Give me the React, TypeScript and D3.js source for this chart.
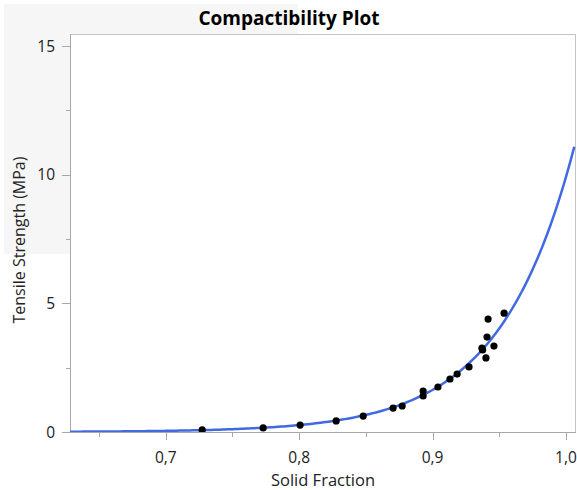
import React from "react";
import * as d3 from "d3";

const solidFraction = [0.7273, 0.773, 0.8007, 0.8277, 0.848, 0.8704, 0.8772, 0.8929, 0.8929, 0.904, 0.913, 0.9184, 0.9273, 0.937, 0.9375, 0.940, 0.9408, 0.9416, 0.946, 0.9536];
const tensileStrength = [0.08, 0.16, 0.27, 0.43, 0.62, 0.93, 1.01, 1.59, 1.40, 1.75, 2.06, 2.25, 2.53, 3.26, 3.19, 2.88, 3.69, 4.39, 3.34, 4.62];
const xTicks = [0.7, 0.8, 0.9, 1.0];
const xMinorTicks = [0.65, 0.75, 0.85, 0.95];
const yTicks = [0, 5, 10, 15];
const yMinorTicks = [2.5, 7.5, 12.5];

const W = 577, H = 490;
const m = { left: 70, top: 34, right: 576, bottom: 432 };
const FONT = "'Open Sans', 'Noto Sans', sans-serif";

// exponential fit TS = a*exp(b*SF), linear regression on ln(TS)
function fitExp(xs: number[], ys: number[]) {
  const ly = ys.map(v => Math.log(v));
  const mx = d3.mean(xs) as number, my = d3.mean(ly) as number;
  let sxy = 0, sxx = 0;
  xs.forEach((x, i) => { sxy += (x - mx) * (ly[i] - my); sxx += (x - mx) * (x - mx); });
  const b = sxy / sxx;
  const a = Math.exp(my - b * mx);
  return { a, b };
}

export default function App() {
  const x = d3.scaleLinear().domain([0.6282, 1.0075]).range([m.left, m.right]);
  const y = d3.scaleLinear().domain([0, 15.47]).range([m.bottom, m.top]);
  const fit = fitExp(solidFraction, tensileStrength);
  const xs = d3.range(0.6282, 1.0076, 0.002);
  const line = d3.line<number>().x(d => x(d)).y(d => y(fit.a * Math.exp(fit.b * d)));
  const fmt = (v: number) => v.toFixed(1).replace(".", ",");
  return (
    <svg width={W} height={H} style={{ position: "absolute", left: 0, top: 0, fontFamily: FONT }}>
      <rect x={0} y={0} width={W} height={H} fill="#fff" />
      <rect x={4} y={4} width={294} height={250} fill="#f6f6f6" />
      <rect x={m.left} y={m.top} width={m.right - m.left} height={m.bottom - m.top} fill="#fff" />
      <text x={289} y={25} textAnchor="middle" fontSize={19} fontWeight="bold" fill="#000">Compactibility Plot</text>
      <defs>
        <clipPath id="plotclip"><rect x={m.left} y={m.top} width={m.right - m.left} height={m.bottom - m.top} /></clipPath>
      </defs>
      <line x1={m.left} x2={m.right} y1={m.top + 0.5} y2={m.top + 0.5} stroke="#c4c4c4" />
      <line x1={m.right - 0.5} x2={m.right - 0.5} y1={m.top} y2={m.bottom} stroke="#c4c4c4" />
      <line x1={m.left + 0.5} x2={m.left + 0.5} y1={m.top} y2={m.bottom} stroke="#a8a8a8" />
      <line x1={m.left} x2={m.right} y1={m.bottom + 0.5} y2={m.bottom + 0.5} stroke="#a8a8a8" />
      {yTicks.map(t => (
        <g key={"y" + t}>
          <line x1={m.left - 8} x2={m.left} y1={Math.round(y(t)) + 0.5} y2={Math.round(y(t)) + 0.5} stroke="#a8a8a8" />
          <text x={m.left - 15} y={y(t) + 5.5} textAnchor="end" fontSize={15.5} fill="#222">{t}</text>
        </g>
      ))}
      {yMinorTicks.map(t => (
        <line key={"ym" + t} x1={m.left - 4} x2={m.left} y1={Math.round(y(t)) + 0.5} y2={Math.round(y(t)) + 0.5} stroke="#a8a8a8" />
      ))}
      {xTicks.map(t => (
        <g key={"x" + t}>
          <line x1={Math.round(x(t)) + 0.5} x2={Math.round(x(t)) + 0.5} y1={m.bottom} y2={m.bottom + 8} stroke="#a8a8a8" />
          <text x={x(t)} y={m.bottom + 31} textAnchor="middle" fontSize={15.5} fill="#222">{fmt(t)}</text>
        </g>
      ))}
      {xMinorTicks.map(t => (
        <line key={"xm" + t} x1={Math.round(x(t)) + 0.5} x2={Math.round(x(t)) + 0.5} y1={m.bottom} y2={m.bottom + 5} stroke="#a8a8a8" />
      ))}
      <text x={323} y={486} textAnchor="middle" fontSize={16.5} fill="#222">Solid Fraction</text>
      <text transform={`translate(25,240) rotate(-90)`} textAnchor="middle" fontSize={16} fill="#222">Tensile Strength (MPa)</text>
      <g clipPath="url(#plotclip)">
        <path d={line(xs) || ""} fill="none" stroke="#4169e1" strokeWidth={2.5} />
        {solidFraction.map((sf, i) => (
          <circle key={i} cx={x(sf)} cy={y(tensileStrength[i])} r={3.6} fill="#000" />
        ))}
      </g>
    </svg>
  );
}
